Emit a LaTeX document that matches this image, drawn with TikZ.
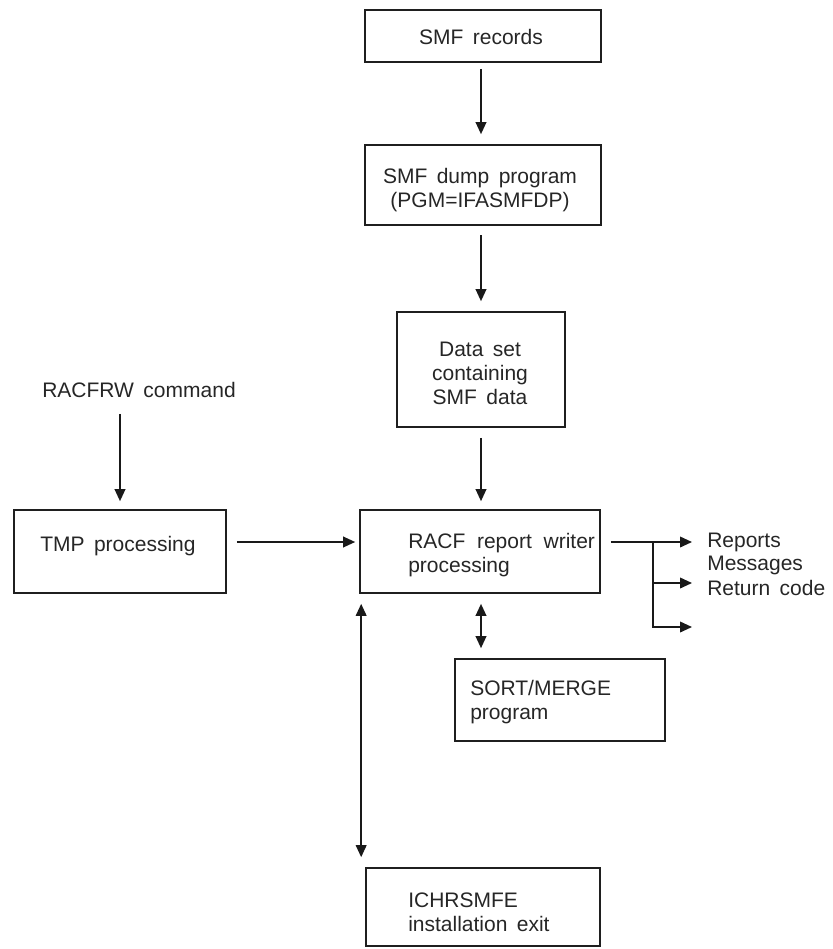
\documentclass[tikz,border=0pt]{standalone}
\usepackage{fontspec}
\setmainfont{Liberation Sans}
\usetikzlibrary{arrows.meta}
\newcommand\txt{\fontsize{15.75pt}{18pt}\selectfont\spaceskip=0.45em plus 0.3em\relax}
\begin{document}
\begin{tikzpicture}[x=0.75pt,y=-0.75pt,
  box/.style={draw=black!88, line width=1.25pt, inner sep=0pt, rectangle},
  lbl/.style={font=\txt, inner sep=0pt, align=left, text=black!85},
  clbl/.style={font=\txt, inner sep=0pt, align=center, text=black!85},
  conn/.style={draw=black!90, line width=1.2pt},
  arr/.style={conn, -{Triangle[length=9pt,width=8pt]}},
  darr/.style={conn, {Triangle[length=9pt,width=8pt]}-{Triangle[length=9pt,width=8pt]}}]
\useasboundingbox (0,0) rectangle (832,949);

% boxes
\node[box, minimum width=177pt, minimum height=39pt] (smf) at (483,36) {};
\node[box, minimum width=177pt, minimum height=60pt] (dump) at (483,185) {};
\node[box, minimum width=126pt, minimum height=86.25pt] (data) at (481,369.5) {};
\node[box, minimum width=180pt, minimum height=62.25pt] (racf) at (480,551.5) {};
\node[box, minimum width=159pt, minimum height=62.25pt] (tmp) at (120,551.5) {};
\node[box, minimum width=157.5pt, minimum height=61.5pt] (sort) at (560,700) {};
\node[box, minimum width=175.5pt, minimum height=58.5pt] (ichr) at (483,907) {};

% texts
\node[clbl] (smft) at (481,37) {SMF records};
\node[clbl] (dumpt) at (480,190) {SMF dump program\\(PGM=IFASMFDP)};
\node[clbl] (datat) at (480,373) {Data set\\containing\\SMF data};
\node[lbl, anchor=west] (racft) at (408,555) {\makebox[140pt][s]{RACF report writer}\\processing};
\node[lbl, anchor=west] (tmpt) at (40,546) {TMP processing};
\node[lbl, anchor=west] (sortt) at (470,702) {SORT/MERGE\\program};
\node[lbl, anchor=west] (ichrt) at (408,912) {ICHRSMFE\\installation exit};
\node[lbl] (cmd) at (139,390) {RACFRW command};
\node[lbl, anchor=west] (rep) at (707,542) {Reports};
\node[lbl, anchor=west] (msg) at (707,565) {Messages};
\node[lbl, anchor=west] (rc) at (707,588) {Return code};

% connectors
\draw[arr, shorten <=4.5pt, shorten >=7.5pt] (smf.south -| data.north) -- (dump.north -| data.north);
\draw[arr, shorten <=7pt, shorten >=7.5pt] (dump.south -| data.north) -- (data.north);
\draw[arr, shorten <=7.5pt, shorten >=6pt] (data.south) -- (data.south |- racf.north);
\draw[arr, shorten <=12pt, shorten >=6pt] (cmd.south -| tmp.north) -- (tmp.north);

\coordinate (j1) at (653,542);
\coordinate (j2) at (653,583);
\coordinate (j3) at (653,627);
\coordinate (o1) at (692,542);
\coordinate (o2) at (692,583);
\coordinate (o3) at (692,627);
\draw[arr, shorten <=7.5pt, shorten >=3pt] (tmp.east |- o1) -- (racf.west |- o1);
\draw[arr, shorten <=7.5pt] (racf.east |- o1) -- (o1);
\draw[arr] (j1) |- (o3);
\draw[arr] (j2) -- (o2);

\draw[darr, shorten <=7.5pt, shorten >=7.5pt] (racf.south -| data.south) -- (sort.north -| data.south);
\coordinate (lx) at ([xshift=1.5pt]racf.south west);
\draw[darr, shorten <=7.5pt, shorten >=7.5pt] (lx) -- (lx |- ichr.north);
\end{tikzpicture}
\end{document}
